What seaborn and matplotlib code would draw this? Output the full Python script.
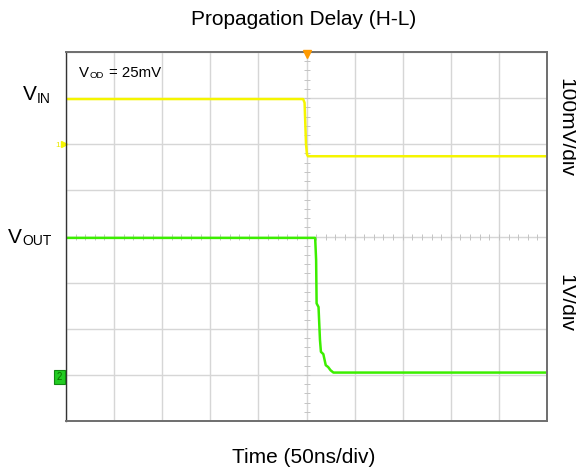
import numpy as np
import matplotlib
matplotlib.use("Agg")
import matplotlib.pyplot as plt
import seaborn as sns

# scope screen in divisions: 10 horizontal (50ns/div), 8 vertical
vin_t = [0.0, 4.93, 4.96, 4.99, 5.01, 5.03, 10.0]
vin_div = [6.98, 6.98, 6.90, 6.00, 5.78, 5.74, 5.74]

vout_t = [0.0, 5.18, 5.20, 5.21, 5.25, 5.28, 5.30, 5.35, 5.40, 5.45, 5.50, 5.56, 10.0]
vout_div = [3.97, 3.97, 3.49, 2.55, 2.47, 1.76, 1.50, 1.45, 1.21, 1.17, 1.10, 1.05, 1.05]

ch1_ground = 6.0
ch2_ground = 1.0
trigger_t = 5.0

W, H = 576, 471
sns.set_theme(style="white")
plt.rcParams['font.family'] = ['Liberation Sans', 'DejaVu Sans']
plt.rcParams['text.color'] = 'black'

fig = plt.figure(figsize=(W / 100, H / 100), dpi=100)
ax = fig.add_axes([66 / W, 1 - 421 / H, (547 - 66) / W, (421 - 52) / H])

ax.set_xlim(0, 10)
ax.set_ylim(0, 8)
ax.set_xticks(np.arange(0, 11))
ax.set_yticks(np.arange(0, 9))
ax.tick_params(length=0, labelbottom=False, labelleft=False)
ax.grid(True, color='#d6d6d6', linewidth=1)

# graticule minor ticks on the centre lines
minor_x = np.arange(0, 10.01, 0.2)
minor_y = np.arange(0, 8.01, 0.2)
ax.plot(minor_x, np.full(len(minor_x), 4.0), ls='none', marker='|', ms=4, color='#c4c4c4', mew=0.7)
ax.plot(np.full(len(minor_y), 5.0), minor_y, ls='none', marker='_', ms=4, color='#c4c4c4', mew=0.7)

sns.lineplot(x=vin_t, y=vin_div, ax=ax, color='#f5f500', linewidth=1.8)
sns.lineplot(x=vout_t, y=vout_div, ax=ax, color='#3cee00', linewidth=1.8)

for side, spine in ax.spines.items():
    spine.set_visible(True)
    spine.set_color('#333333' if side == 'left' else '#6e6e6e')
    spine.set_linewidth(1.0 if side == 'left' else 1.4)

# trigger marker
ax.plot([trigger_t], [7.95], marker='v', ms=5.5, color='#ff9a00', clip_on=False, zorder=5)
# channel markers
ax.plot([-0.05], [ch1_ground], marker='>', ms=5, color='#f5f500', clip_on=False)
fig.text(55 / W, 1 - 147 / H, "1", fontsize=6, color='#e8e800')
fig.text(59.5 / W, 1 - 377 / H, "2", fontsize=7, color='#0b6d00', ha='center', va='center',
         bbox=dict(boxstyle='square,pad=0.25', fc='#22cc22', ec='#118811', lw=0.8))


def px_text(x, y, s, **kw):
    fig.text(x / W, 1 - y / H, s, color='black', **kw)


px_text(303.5, 25, "Propagation Delay (H-L)", fontsize=15, ha='center', va='baseline')
px_text(303.5, 463, "Time (50ns/div)", fontsize=15, ha='center', va='baseline')
px_text(566, 127, "100mV/div", fontsize=15, rotation=-90, ha='center', va='center')
px_text(566, 303, "1V/div", fontsize=15, rotation=-90, ha='center', va='center')

px_text(23, 100, "V", fontsize=15, va='baseline')
px_text(36.5, 103, "IN", fontsize=10, va='baseline')
px_text(8, 243, "V", fontsize=15, va='baseline')
px_text(22.5, 245, "OUT", fontsize=10, va='baseline')
px_text(79, 76.7, "V", fontsize=10.8, va='baseline')
px_text(89.5, 78.5, "OD", fontsize=6.8, va='baseline')
px_text(109, 76.7, "= 25mV", fontsize=10.8, va='baseline')

fig.savefig("out.png", dpi=100)
